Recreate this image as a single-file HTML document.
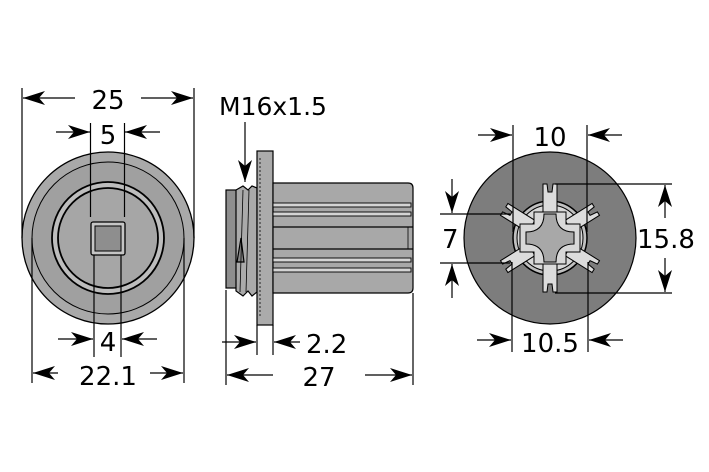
<!DOCTYPE html>
<html><head><style>
html,body{margin:0;padding:0;background:#fff;}
svg{display:block;}
text{font-family:"DejaVu Sans","Liberation Sans",sans-serif;fill:#000;}
</style></head><body>
<svg width="709" height="472" viewBox="0 0 709 472" xmlns="http://www.w3.org/2000/svg">
<defs>
<marker id="a" viewBox="0 0 22 14" refX="22" refY="7" markerWidth="22" markerHeight="14" markerUnits="userSpaceOnUse" orient="auto">
<path d="M0,0 L22,7 L0,14 L6,7 Z" fill="#000"/></marker>
</defs>
<!-- LEFT VIEW -->
<g stroke="#000" stroke-width="1.3">
<circle cx="108" cy="238" r="86" fill="#a9a9a9"/>
<circle cx="108" cy="238" r="76" fill="#a0a0a0" stroke-width="1"/>
<circle cx="108" cy="238" r="56" fill="#bdbdbd" stroke-width="1.8"/>
<circle cx="108" cy="238" r="50" fill="#a6a6a6" stroke-width="1.8"/>
<rect x="91" y="222" width="34" height="33" fill="#c5c5c5" rx="2"/>
<rect x="95" y="226" width="26" height="25" fill="#8e8e8e" stroke-width="1"/>
</g>
<g stroke="#000" stroke-width="1.2" fill="none">
<line x1="22" y1="88" x2="22" y2="238"/><line x1="194" y1="88" x2="194" y2="238"/>
<line x1="90.5" y1="123" x2="90.5" y2="217"/><line x1="124.5" y1="123" x2="124.5" y2="217"/>
<line x1="94" y1="255" x2="94" y2="357"/><line x1="121" y1="255" x2="121" y2="357"/>
<line x1="32" y1="238" x2="32" y2="383"/><line x1="184" y1="238" x2="184" y2="383"/>
<line x1="75" y1="98" x2="23" y2="98" marker-end="url(#a)"/><line x1="141" y1="98" x2="193" y2="98" marker-end="url(#a)"/>
<line x1="56" y1="132" x2="90" y2="132" marker-end="url(#a)"/><line x1="160" y1="132" x2="125" y2="132" marker-end="url(#a)"/>
<line x1="58" y1="339" x2="93" y2="339" marker-end="url(#a)"/><line x1="157" y1="339" x2="122" y2="339" marker-end="url(#a)"/>
<line x1="58" y1="373" x2="33" y2="373" marker-end="url(#a)"/><line x1="150" y1="373" x2="183" y2="373" marker-end="url(#a)"/>
</g>
<text x="108" y="109" font-size="26" text-anchor="middle">25</text>
<text x="108" y="144" font-size="26" text-anchor="middle">5</text>
<text x="108" y="351" font-size="26" text-anchor="middle">4</text>
<text x="108" y="385" font-size="26" text-anchor="middle">22.1</text>
<!-- MIDDLE VIEW -->
<g stroke="#000" stroke-width="1.2">
<rect x="226" y="190" width="12" height="98" fill="#8e8e8e"/>
<path d="M236,190 L243,186 L248,190 L252,186 L257,188 L257,292 L252,296 L248,291 L243,296 L236,291 Z" fill="#aaaaaa"/>
<path d="M237,262 L241,238 L244,262 Z" fill="#888"/>
<line x1="243" y1="190" x2="240" y2="292" stroke-width="0.8"/>
<line x1="249" y1="190" x2="246" y2="292" stroke-width="0.8"/>
<rect x="257" y="151" width="16" height="174" fill="#ababab"/>
<line x1="260" y1="158" x2="260" y2="318" stroke-dasharray="2,2" stroke-width="0.8"/>
<path d="M273,183 L408,183 Q413,183 413,188 L413,288 Q413,293 408,293 L273,293 Z" fill="#a8a8a8"/>
<g fill="#d4d4d4" stroke-width="0.9">
<rect x="273" y="203" width="138" height="4"/><rect x="273" y="212" width="138" height="4"/>
<rect x="273" y="258" width="138" height="4"/><rect x="273" y="268" width="138" height="4"/>
</g>
<line x1="273" y1="227" x2="413" y2="227"/><line x1="273" y1="249" x2="413" y2="249"/>
<line x1="408" y1="227" x2="408" y2="249" stroke-width="0.8"/>
</g>
<g stroke="#000" stroke-width="1.2" fill="none">
<line x1="226" y1="290" x2="226" y2="385"/><line x1="257" y1="325" x2="257" y2="355"/><line x1="273" y1="325" x2="273" y2="355"/><line x1="413" y1="293" x2="413" y2="385"/>
<line x1="245" y1="122" x2="245" y2="182" marker-end="url(#a)"/>
<line x1="222" y1="342" x2="256" y2="342" marker-end="url(#a)"/><line x1="300" y1="342" x2="274" y2="342" marker-end="url(#a)"/>
<line x1="273" y1="375" x2="227" y2="375" marker-end="url(#a)"/><line x1="365" y1="375" x2="412" y2="375" marker-end="url(#a)"/>
</g>
<text x="219" y="115" font-size="25">M16x1.5</text>
<text x="306" y="353" font-size="26">2.2</text>
<text x="319" y="386" font-size="26" text-anchor="middle">27</text>
<!-- RIGHT VIEW -->
<circle cx="550" cy="238" r="86" fill="#7d7d7d" stroke="#000" stroke-width="1.2"/>
<circle cx="550" cy="238" r="37" fill="#c0c0c0" stroke="#000" stroke-width="1.5"/>
<circle cx="550" cy="238" r="33" fill="#d8d8d8" stroke="#000" stroke-width="1"/>
<g fill="#dcdcdc" stroke="#000" stroke-width="1">
<g transform="translate(550,238)">
<path d="M-7,-54 L-3,-54 L-2,-46 L2,-46 L3,-54 L7,-54 L7,-26 L-7,-26 Z"/>
<path d="M-7,54 L-3,54 L-2,46 L2,46 L3,54 L7,54 L7,26 L-7,26 Z"/>
<g transform="rotate(-58)"><path d="M-7,-54 L-3,-54 L-2,-46 L2,-46 L3,-54 L7,-54 L7,-22 L-7,-22 Z"/></g>
<g transform="rotate(58)"><path d="M-7,-54 L-3,-54 L-2,-46 L2,-46 L3,-54 L7,-54 L7,-22 L-7,-22 Z"/></g>
<g transform="rotate(122)"><path d="M-7,-54 L-3,-54 L-2,-46 L2,-46 L3,-54 L7,-54 L7,-22 L-7,-22 Z"/></g>
<g transform="rotate(-122)"><path d="M-7,-54 L-3,-54 L-2,-46 L2,-46 L3,-54 L7,-54 L7,-22 L-7,-22 Z"/></g>
<path d="M-16,-26 L16,-26 L16,-14 L30,-14 L30,14 L16,14 L16,26 L-16,26 L-16,14 L-30,14 L-30,-14 L-16,-14 Z" fill="#d8d8d8"/>
<path d="M-6,-24 L6,-24 Q6,-6 24,-6 L24,6 Q6,6 6,24 L-6,24 Q-6,6 -24,6 L-24,-6 Q-6,-6 -6,-24 Z" fill="#a8a8a8"/>
</g>
</g>
<g stroke="#000" stroke-width="1.2" fill="none">
<line x1="513" y1="125" x2="513" y2="232"/><line x1="587" y1="125" x2="587" y2="232"/>
<line x1="512" y1="262" x2="512" y2="352"/><line x1="588" y1="262" x2="588" y2="352"/>
<line x1="440" y1="214" x2="510" y2="214"/><line x1="440" y1="263" x2="510" y2="263"/>
<line x1="555" y1="184" x2="672" y2="184"/><line x1="555" y1="293" x2="672" y2="293"/>
<line x1="478" y1="135" x2="512" y2="135" marker-end="url(#a)"/><line x1="622" y1="135" x2="588" y2="135" marker-end="url(#a)"/>
<line x1="477" y1="340" x2="511" y2="340" marker-end="url(#a)"/><line x1="623" y1="340" x2="589" y2="340" marker-end="url(#a)"/>
<line x1="452" y1="179" x2="452" y2="213" marker-end="url(#a)"/><line x1="452" y1="298" x2="452" y2="264" marker-end="url(#a)"/>
<line x1="665" y1="218" x2="665" y2="185" marker-end="url(#a)"/><line x1="665" y1="258" x2="665" y2="292" marker-end="url(#a)"/>
</g>
<text x="550" y="146" font-size="26" text-anchor="middle">10</text>
<text x="550" y="352" font-size="26" text-anchor="middle">10.5</text>
<text x="442" y="248" font-size="26">7</text>
<text x="637" y="248" font-size="26">15.8</text>
</svg>
</body></html>
